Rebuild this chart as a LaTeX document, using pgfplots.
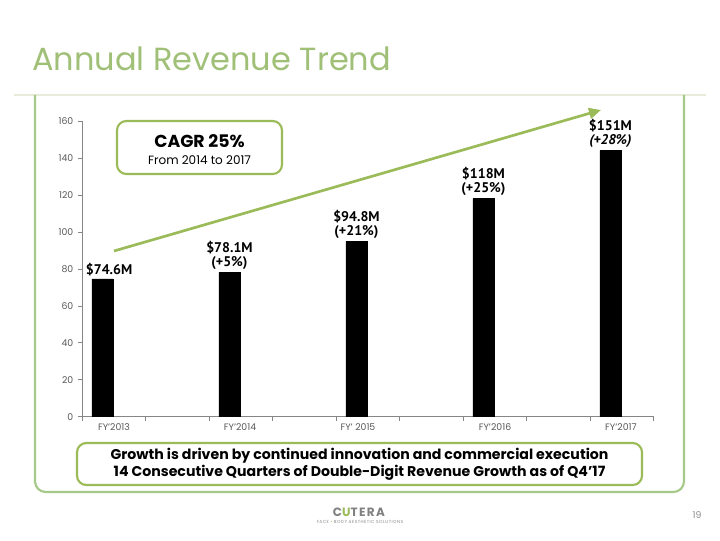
\documentclass[border=0pt]{standalone}
\usepackage{fontspec}
\setmainfont{Poppins}
\newfontfamily\ptsans{PT Sans}
\usepackage{pgfplots}
\pgfplotsset{compat=1.18}
\usetikzlibrary{arrows.meta}
\definecolor{cgreen}{RGB}{155,187,89}
\definecolor{tgreen}{RGB}{160,192,120}
\definecolor{fgreen}{RGB}{166,201,138}
\definecolor{lgline}{RGB}{232,236,218}
\definecolor{axgray}{RGB}{134,134,134}
\definecolor{txtgray}{RGB}{89,89,89}
\definecolor{lightgray2}{RGB}{140,140,140}
\tikzset{lbl/.style={anchor=south, align=center, inner sep=2pt, font=\ptsans\bfseries\fontsize{10.5}{10.5}\selectfont}}
\begin{document}
\begin{tikzpicture}[x=0.75pt,y=0.75pt]
\path[fill=white,use as bounding box] (0,0) rectangle (720,540);
% title
\node[anchor=base west, inner sep=0, text=tgreen, font=\fontsize{24}{30}\selectfont] at (32,540-71) {Annual Revenue Trend};
\draw[lgline, line width=1.5pt] (14,540-95) -- (706,540-95);
\draw[fgreen, line width=1.6pt, rounded corners=8pt] (35,540-95) -- (35,540-492) -- (684,540-492) -- (684,540-95);

\begin{axis}[
  at={(61.5pt,92.475pt)}, anchor=south west,
  x=95.25pt, y=1.3845pt,
  xmin=-0.161, xmax=4.339, ymin=0, ymax=160,
  clip=false,
  ybar, bar width=15.75pt,
  axis lines=left,
  axis line style={-, draw=axgray, line width=0.6pt},
  tick style={draw=axgray, line width=0.6pt},
  tick align=outside,
  major tick length=3pt,
  ytick={0,20,...,160},
  yticklabel style={font=\fontsize{7}{8}\selectfont, text=txtgray},
  /pgf/number format/assume math mode=true,
  xtick={-0.161,0.339,0.839,1.339,1.839,2.339,2.839,3.339,3.839,4.339},
  xticklabels={},
  extra x ticks={0.091,1.083,2.012,3.091,4.083},
  extra x tick labels={FY'2013,FY'2014,FY' 2015,FY'2016,FY'2017},
  extra x tick style={major tick length=0pt, xticklabel style={yshift=-2pt}},
  xticklabel style={font=\fontsize{7}{8}\selectfont, text=txtgray},
]
\addplot[fill=black, draw=black] coordinates {(0,74.6) (1,78.1) (2,94.8) (3,118.1) (4,144.1)};
\node[lbl, xshift=5pt] at (axis cs:0,74.6) {\$74.6M};
\node[lbl] at (axis cs:1,78.1) {\$78.1M\\(+5\%)};
\node[lbl] at (axis cs:2,94.8) {\$94.8M\\(+21\%)};
\node[lbl] at (axis cs:3,118.1) {\$118M\\(+25\%)};
\node[lbl] at (axis cs:4,144.1) {\$151M\\\textit{(+28\%)}};
\end{axis}

% arrow
\draw[cgreen, line width=2pt, -{Triangle[length=9pt,width=8pt]}] (114,540-251) -- (601,540-110);

% CAGR box
\draw[cgreen, line width=1.6pt, rounded corners=7pt, fill=white] (117,540-121) rectangle (282,540-174);
\node[font=\bfseries\fontsize{13}{14}\selectfont] at (199.5,540-141) {CAGR 25\%};
\node[font=\fontsize{9}{10}\selectfont] at (199.5,540-160) {From 2014 to 2017};

% bottom box
\draw[cgreen, line width=1.6pt, rounded corners=7pt] (77,540-443) rectangle (642,540-485);
\node[align=center, font=\bfseries\fontsize{10.6}{12.75}\selectfont] at (359.5,540-464) {Growth is driven by continued innovation and commercial execution\\14 Consecutive Quarters of Double-Digit Revenue Growth as of Q4'17};

% logo
\node[font=\bfseries\fontsize{9}{9}\selectfont\addfontfeature{LetterSpace=12}, text=gray] at (359,540-512) {C{\color{cgreen}U}TERA};
\node[font=\fontsize{3.3}{4}\selectfont\addfontfeature{LetterSpace=10}, text=lightgray2] at (360,540-522) {FACE {\color{cgreen}•} BODY AESTHETIC SOLUTIONS};
\node[font=\fontsize{7}{8}\selectfont, text=lightgray2] at (697,540-515) {19};
\end{tikzpicture}
\end{document}
